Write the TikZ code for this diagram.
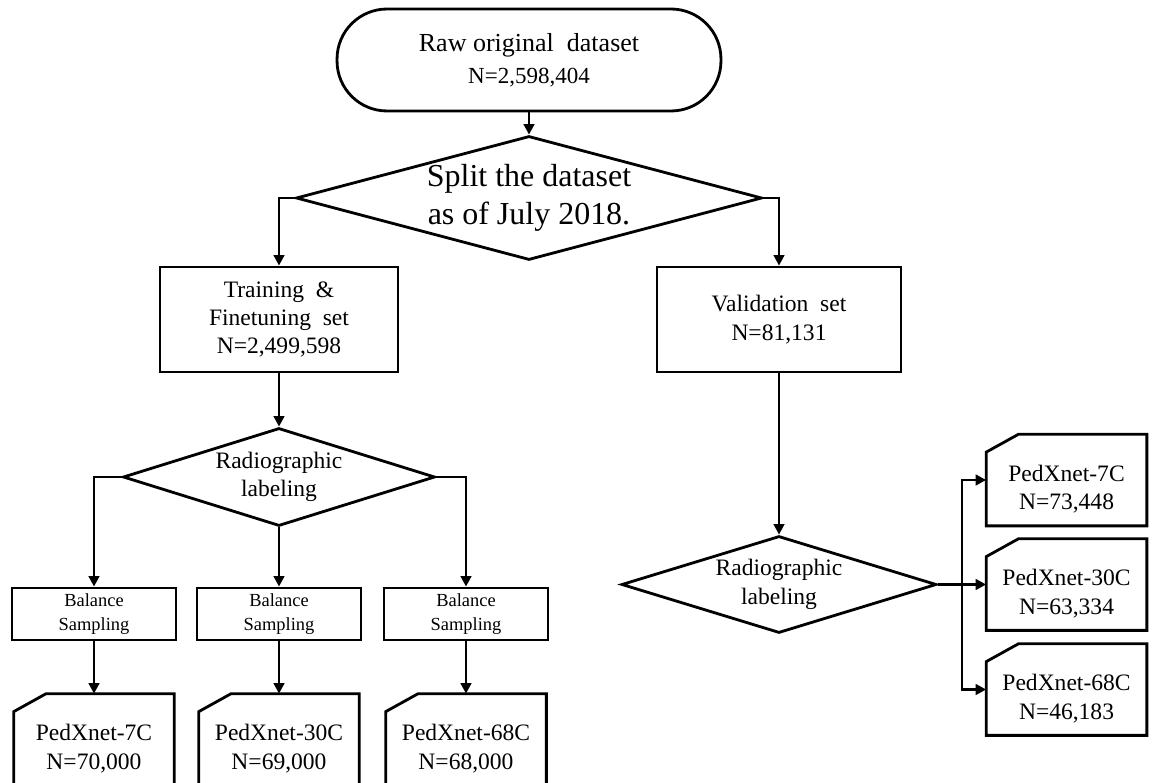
\documentclass[tikz,border=0pt]{standalone}
\usepackage{fontspec}
\setmainfont{Liberation Serif}
\usetikzlibrary{shapes.geometric,arrows.meta}

\tikzset{
  box/.style={draw, line width=1.6pt, align=center, inner sep=0pt, font=\fontsize{13.4}{16.2}\selectfont},
  txt/.style={align=center, inner sep=0pt, font=\fontsize{13.4}{16.2}\selectfont},
  decision/.style={draw, diamond, line width=1.6pt, inner sep=0pt},
  card/.style={rectangle, inner sep=0pt, minimum width=3.2cm, minimum height=1.82cm},
  arr/.style={line width=1.6pt, -{Triangle[length=6pt,width=6pt]}}
}

\begin{document}
\begin{tikzpicture}[x=0.02cm,y=-0.02cm]
\useasboundingbox (0,0) rectangle (1155,783);
\clip (0,0) rectangle (1155,783);

% top part
\node[box, rounded corners=1cm, minimum width=7.68cm, minimum height=2.04cm, font=\fontsize{14.8}{18.2}\selectfont](raw) at (529,60){Raw original~ dataset\\\fontsize{13.1}{18.2}\selectfont N=2,598,404};
\node[decision, minimum width=9.32cm, minimum height=2.48cm, label={[txt, font=\fontsize{18.2}{21.6}\selectfont]center:{Split the dataset\\as of July 2018.}}](split) at (529,198){};
\node[box, minimum width=4.76cm, minimum height=2.1cm](train) at (279,319.5){Training~ \&\\Finetuning~ set\\N=2,499,598};
\node[box, minimum width=4.88cm, minimum height=2.1cm](valid) at (779,319.5){Validation~ set\\N=81,131};

% training branch
\node[decision, minimum width=6.24cm, minimum height=1.96cm, label={[txt]center:{Radiographic\\labeling}}](radL) at (279,477){};
\node[box, minimum width=3.28cm, minimum height=1.04cm, font=\fontsize{10.5}{13.7}\selectfont](bal7) at (94,614){Balance\\Sampling};
\node[box, minimum width=3.28cm, minimum height=1.04cm, font=\fontsize{10.5}{13.7}\selectfont](bal30) at (279,614){Balance\\Sampling};
\node[box, minimum width=3.28cm, minimum height=1.04cm, font=\fontsize{10.5}{13.7}\selectfont](bal68) at (466,614){Balance\\Sampling};
\node[card, label={[txt, yshift=-0.18cm]center:{PedXnet-7C\\N=70,000}}](c7) at (94,739.5){};
\node[card, label={[txt, yshift=-0.18cm]center:{PedXnet-30C\\N=69,000}}](c30) at (279,739.5){};
\node[card, label={[txt, yshift=-0.18cm]center:{PedXnet-68C\\N=68,000}}](c68) at (466,739.5){};

% validation branch
\node[decision, minimum width=6.3cm, minimum height=1.94cm, label={[txt]center:{Radiographic\\labeling}}](radR) at (779,584.5){};
\node[card, label={[txt, yshift=-0.18cm]center:{PedXnet-7C\\N=73,448}}](r7) at (1066.5,480){};
\node[card, label={[txt, yshift=-0.18cm]center:{PedXnet-30C\\N=63,334}}](r30) at (1066.5,584.5){};
\node[card, label={[txt, yshift=-0.18cm]center:{PedXnet-68C\\N=46,183}}](r68) at (1066.5,689.5){};
\coordinate (bus) at (962,584.5);

% card outlines with cut corner
\foreach \c in {c7,c30,c68,r7,r30,r68}
  \draw[line width=1.6pt] ([yshift=-0.36cm]\c.north west) -- ([xshift=0.65cm]\c.north west) -- (\c.north east) -- (\c.south east) -- (\c.south west) -- cycle;

% connectors
\draw[arr] (raw.south) -- (split.north);
\draw[arr] (split.west) -| (train.north);
\draw[arr] (split.east) -| (valid.north);
\draw[arr] (train.south) -- (radL.north);
\draw[arr] (radL.west) -| (bal7.north);
\draw[arr] (radL.south) -- (bal30.north);
\draw[arr] (radL.east) -| (bal68.north);
\draw[arr] (bal7.south) -- (c7.north);
\draw[arr] (bal30.south) -- (c30.north);
\draw[arr] (bal68.south) -- (c68.north);
\draw[arr] (valid.south) -- (radR.north);
\draw[arr] (radR.east) -- (r30.west);
\draw[arr] (bus) |- (r7.west);
\draw[arr] (bus) |- (r68.west);
\end{tikzpicture}
\end{document}
